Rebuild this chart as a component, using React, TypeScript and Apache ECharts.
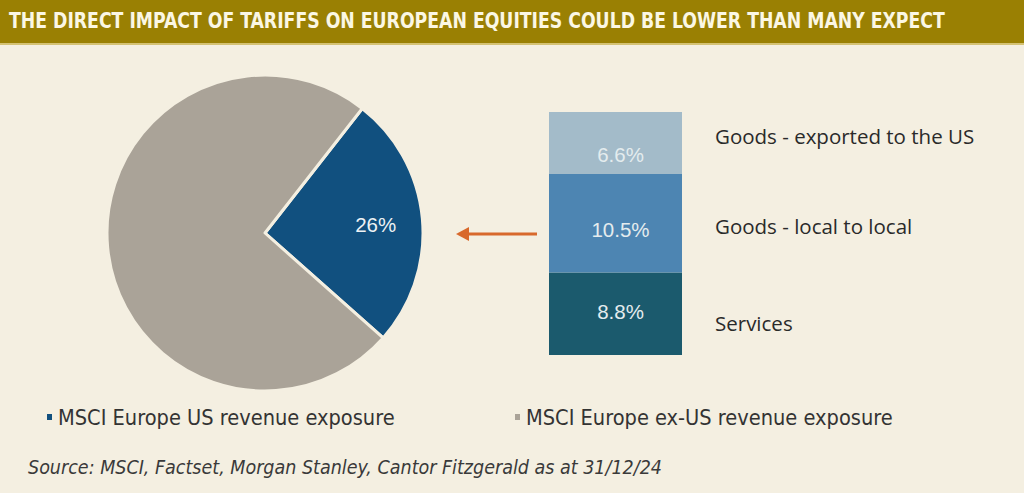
import React, { useEffect, useRef } from "react";
import * as echarts from "echarts";

const titleText = "THE DIRECT IMPACT OF TARIFFS ON EUROPEAN EQUITIES COULD BE LOWER THAN MANY EXPECT";
const sourceText = "Source: MSCI, Factset, Morgan Stanley, Cantor Fitzgerald as at 31/12/24";

const pieNames = ["MSCI Europe US revenue exposure", "MSCI Europe ex-US revenue exposure"];
const pieValues = [26, 74];
const pieColors = ["#11507f", "#aaa398"];

// stacked bar, bottom to top
const barNames = ["Services", "Goods - local to local", "Goods - exported to the US"];
const barValues = [8.8, 10.5, 6.6];
const barColors = ["#1b5a6d", "#4d85b2", "#a3bbc9"];

// small vertical nudges of the texts (layout only)
const valueLabelDy = [-2, 6, 12];
const nameLabelDy = [9, 3, -7];

const BG = "#f4efe1";
const NARROW = "'DejaVu Sans Condensed', sans-serif";
const ARIAL = "'Liberation Sans', Arial, sans-serif";

function measure(text: string, font: string) {
  const c = document.createElement("canvas").getContext("2d")!;
  c.font = font;
  return c.measureText(text).width;
}

export default function App() {
  const ref = useRef<HTMLDivElement>(null);
  useEffect(() => {
    document.body.style.margin = "0";
    const chart = echarts.init(ref.current!, null, { renderer: "svg" });
    const total = barValues.reduce((a, b) => a + b, 0);
    const legendText = { fontSize: 21.6, color: "#333", fontFamily: NARROW };
    const option: any = {
      animation: false,
      backgroundColor: BG,
      grid: { left: 549, top: 112, width: 133, height: 243 },
      xAxis: { type: "category", data: ["US"], show: false },
      yAxis: { type: "value", min: 0, max: total, show: false },
      legend: [
        { data: [pieNames[0]], left: 40, top: 401, icon: "rect", itemWidth: 7, itemHeight: 8, itemGap: 4, textStyle: legendText },
        { data: [pieNames[1]], left: 508, top: 401, icon: "rect", itemWidth: 7, itemHeight: 8, itemGap: 4, textStyle: legendText },
      ],
      series: [
        {
          type: "pie",
          center: [265, 233],
          radius: 158,
          startAngle: 52,
          clockwise: true,
          itemStyle: { borderColor: BG, borderWidth: 3 },
          labelLine: { show: false },
          data: pieValues.map((v, i) => ({
            name: pieNames[i],
            value: v,
            itemStyle: { color: pieColors[i] },
            label: {
              show: i === 0,
              position: "inside",
              formatter: "{c}%",
              color: "#eef2f4",
              fontSize: 20.5,
              fontFamily: ARIAL,
              offset: [29, -1],
            },
          })),
        },
        ...barValues.map((v, i) => ({
          type: "bar",
          name: barNames[i],
          stack: "s",
          barWidth: "100%",
          data: [v],
          itemStyle: { color: barColors[i] },
          label: {
            show: true,
            position: "inside",
            formatter: (p: any) => p.value.toFixed(1) + "%",
            color: "#e4ecee",
            fontSize: 20.5,
            fontFamily: ARIAL,
            offset: [5, valueLabelDy[i]],
          },
        })),
      ],
    };
    chart.setOption(option);

    const titleFont = "bold 21px 'DejaVu Sans Condensed'";
    const tw = measure(titleText, titleFont);
    const sx = tw > 0 ? 937 / tw : 1;

    const g: any[] = [
      { type: "rect", shape: { x: 0, y: 0, width: 1024, height: 44 }, style: { fill: "#9a8003" } },
      { type: "rect", shape: { x: 0, y: 43, width: 1024, height: 2 }, style: { fill: "#d4c274" } },
      {
        type: "text", x: 9, y: 21, scaleX: sx,
        style: { text: titleText, fill: "#fbf7e4", fontSize: 21, fontWeight: "bold", fontFamily: NARROW, verticalAlign: "middle" },
      },
      { type: "line", shape: { x1: 537, y1: 234, x2: 466, y2: 234 }, style: { stroke: "#d8692c", lineWidth: 3 } },
      { type: "polygon", shape: { points: [[456, 234], [469, 227], [469, 241]] }, style: { fill: "#d8692c" } },
      {
        type: "text", x: 28, y: 467,
        style: { text: sourceText, fill: "#3a3a3a", fontSize: 19.5, fontStyle: "italic", fontFamily: NARROW, verticalAlign: "middle" },
      },
    ];
    let cum = 0;
    barValues.forEach((v, i) => {
      const mid = cum + v / 2;
      cum += v;
      const pt = chart.convertToPixel({ gridIndex: 0 }, [0, mid]);
      g.push({
        type: "text", x: 715, y: pt[1] + nameLabelDy[i],
        style: { text: barNames[i], fill: "#2a2a2a", fontSize: 20.5, fontFamily: "'Open Sans', sans-serif", verticalAlign: "middle" },
      });
    });
    chart.setOption({ graphic: g });
    return () => chart.dispose();
  }, []);
  return <div ref={ref} style={{ width: 1024, height: 493 }} />;
}
